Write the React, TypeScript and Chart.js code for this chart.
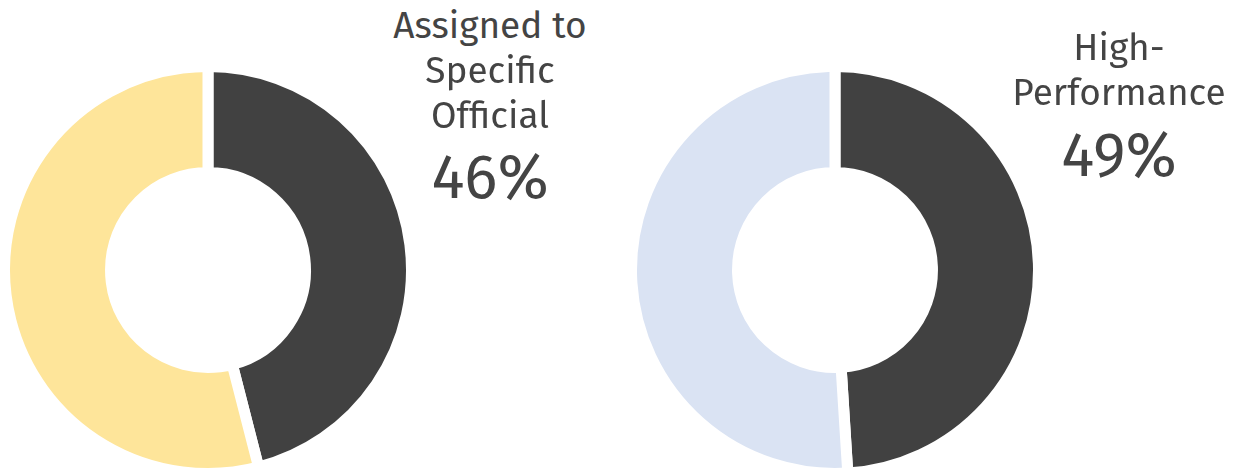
import React, { useEffect, useRef } from "react";
import { Chart, registerables } from "chart.js";

Chart.register(...registerables);

const charts = ["Assigned to Specific Official", "High-Performance"];
const labelLines = [["Assigned to", "Specific", "Official"], ["High-", "Performance"]];
const categories = ["Yes", "No"];
const yesValues = [46, 49];
const noValues = [54, 51];
const percentLabels = ["46%", "49%"];
const darkColor = "#414141";
const otherColors = ["#FEE59A", "#DAE3F3"];

const GAP = 11;
const SIZE = 418;

function Donut({ idx, left, top }: { idx: number; left: number; top: number }) {
  const ref = useRef<HTMLCanvasElement | null>(null);
  useEffect(() => {
    if (!ref.current) return;
    const chart = new Chart(ref.current, {
      type: "doughnut",
      data: {
        labels: categories,
        datasets: [
          {
            label: charts[idx],
            data: [yesValues[idx], noValues[idx]],
            backgroundColor: [darkColor, otherColors[idx]],
            borderColor: "#ffffff",
            borderWidth: GAP,
          },
        ],
      },
      options: {
        responsive: false,
        animation: false,
        cutout: "47.9%",
        layout: { padding: 0 },
        plugins: { legend: { display: false }, tooltip: { enabled: false } },
      },
    });
    return () => chart.destroy();
  }, [idx]);
  return (
    <canvas
      ref={ref}
      width={SIZE}
      height={SIZE}
      style={{ position: "absolute", left, top, width: SIZE, height: SIZE }}
    />
  );
}

function Label({ idx, cx, tops, pctTop }: { idx: number; cx: number; tops: number[]; pctTop: number }) {
  const base: React.CSSProperties = {
    position: "absolute",
    left: cx - 150,
    width: 300,
    textAlign: "center",
    color: "#444444",
    fontFamily: "'Fira Sans', 'Open Sans', sans-serif",
    whiteSpace: "nowrap",
  };
  return (
    <>
      {labelLines[idx].map((l, i) => (
        <div key={i} style={{ ...base, top: tops[i], fontSize: 37, lineHeight: "45px" }}>
          {l}
        </div>
      ))}
      <div style={{ ...base, top: pctTop, fontSize: 62, lineHeight: "70px" }}>{percentLabels[idx]}</div>
    </>
  );
}

export default function App() {
  return (
    <div
      style={{
        position: "absolute",
        left: 0,
        top: 0,
        width: 1238,
        height: 469,
        overflow: "hidden",
        background: "#fff",
      }}
    >
      <Donut idx={0} left={207.5 - SIZE / 2} top={270 - SIZE / 2} />
      <Donut idx={1} left={835 - SIZE / 2} top={270 - SIZE / 2} />
      <Label idx={0} cx={490} tops={[3, 48, 93]} pctTop={142} />
      <Label idx={1} cx={1119} tops={[25, 70]} pctTop={120} />
    </div>
  );
}
